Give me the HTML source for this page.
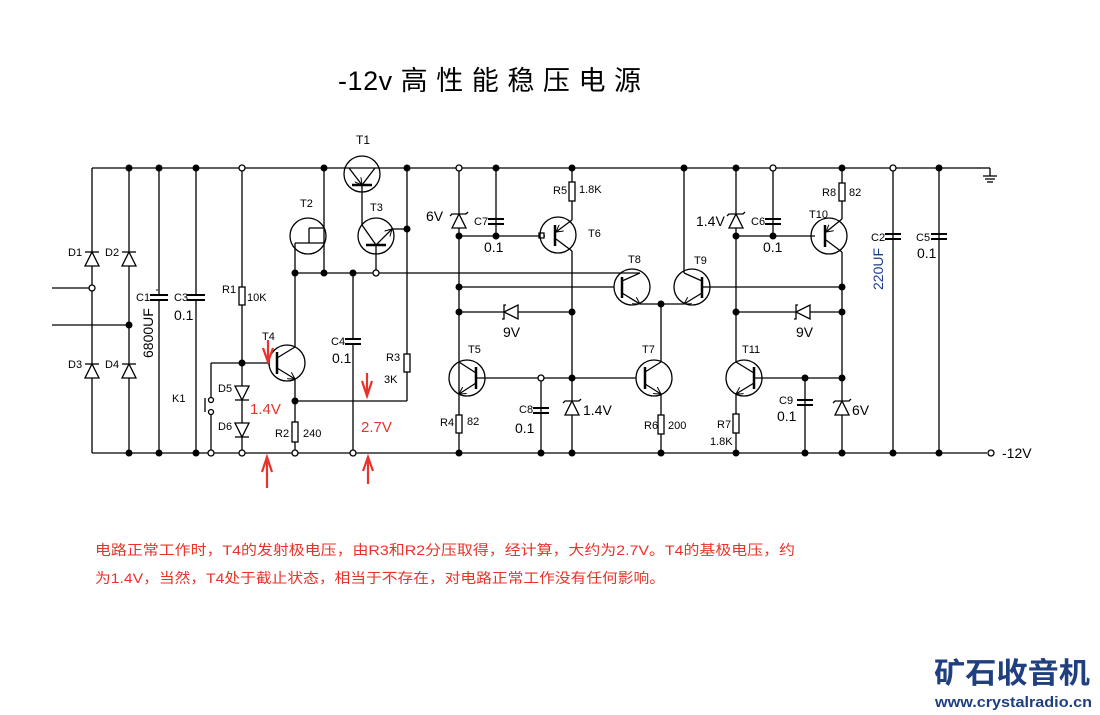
<!DOCTYPE html>
<html><head><meta charset="utf-8"><style>
html,body{margin:0;padding:0;background:#fff;}
svg{display:block;}
text{font-family:"Liberation Sans","Noto Sans CJK SC",sans-serif;}
</style></head><body>
<svg width="1100" height="715" viewBox="0 0 1100 715" xmlns="http://www.w3.org/2000/svg">
<defs>
<marker id="ar" markerWidth="8" markerHeight="8" refX="7" refY="4" orient="auto" markerUnits="userSpaceOnUse"><path d="M0,0 L7,4 L0,8" fill="none" stroke="#000" stroke-width="1"/></marker>
</defs>
<text x="338" y="90" font-size="27" textLength="303" lengthAdjust="spacing" fill="#000">-12v 高 性 能 稳 压 电 源</text>

<g stroke="#000" stroke-width="1.3" fill="none">
<line x1="92" y1="168" x2="975" y2="168"/>
<line x1="92" y1="453" x2="987" y2="453"/>
<line x1="975" y1="168" x2="990" y2="168"/><line x1="990" y1="168" x2="990" y2="176"/>
<line x1="983" y1="176" x2="997" y2="176"/><line x1="985" y1="179" x2="995" y2="179"/><line x1="987" y1="182" x2="993" y2="182"/>
<circle cx="991" cy="453" r="3" fill="#fff"/>
<line x1="92" y1="168" x2="92" y2="453"/><line x1="129" y1="168" x2="129" y2="453"/>
<line x1="52" y1="288" x2="92" y2="288"/><line x1="52" y1="325" x2="129" y2="325"/>
<g fill="#fff">
<path d="M85,266 L99,266 L92,252 Z"/><path d="M122,266 L136,266 L129,252 Z"/>
<path d="M85,378 L99,378 L92,364 Z"/><path d="M122,378 L136,378 L129,364 Z"/>
</g>
<line x1="85" y1="252" x2="99" y2="252"/><line x1="122" y1="252" x2="136" y2="252"/>
<line x1="85" y1="364" x2="99" y2="364"/><line x1="122" y1="364" x2="136" y2="364"/>
<line x1="159" y1="168" x2="159" y2="453"/><line x1="196" y1="168" x2="196" y2="453"/>
<g fill="#fff" stroke="none"><rect x="150" y="295" width="20" height="6"/><rect x="187" y="295" width="20" height="6"/></g>
<line x1="150" y1="295" x2="168" y2="295" stroke-width="2"/><line x1="150" y1="300" x2="168" y2="300" stroke-width="2"/>
<line x1="187" y1="295" x2="205" y2="295" stroke-width="2"/><line x1="187" y1="300" x2="205" y2="300" stroke-width="2"/>
<line x1="242" y1="168" x2="242" y2="363"/>
<rect x="239" y="287" width="6" height="18" fill="#fff"/>
<line x1="211" y1="363" x2="211" y2="453"/><line x1="211" y1="363" x2="268" y2="363"/>
<line x1="211" y1="400" x2="211" y2="412" stroke="#fff" stroke-width="3"/>
<line x1="205" y1="398" x2="205" y2="412"/>
<line x1="242" y1="363" x2="242" y2="453"/>
<path d="M235,386 L249,386 L242,400 Z" fill="#fff"/><line x1="235" y1="400" x2="249" y2="400"/>
<path d="M235,423 L249,423 L242,437 Z" fill="#fff"/><line x1="235" y1="437" x2="249" y2="437"/>
<circle cx="287" cy="363" r="18"/>
<line x1="277" y1="352" x2="277" y2="374" stroke-width="2.5"/>
<line x1="277" y1="358" x2="295" y2="347"/><line x1="277" y1="368" x2="295" y2="379" marker-end="url(#ar)"/>
<line x1="295" y1="273" x2="295" y2="347"/><line x1="295" y1="379" x2="295" y2="453"/>
<line x1="295" y1="401" x2="407" y2="401"/>
<rect x="292" y="422" width="6" height="20" fill="#fff"/>
<line x1="407" y1="168" x2="407" y2="401"/>
<rect x="404" y="354" width="6" height="18" fill="#fff"/>
<line x1="353" y1="273" x2="353" y2="453"/>
<rect x="343" y="339" width="20" height="6" fill="#fff" stroke="none"/>
<line x1="345" y1="339" x2="361" y2="339" stroke-width="2"/><line x1="345" y1="344" x2="361" y2="344" stroke-width="2"/>
<line x1="295" y1="273" x2="640" y2="273"/>
<circle cx="308" cy="236" r="18"/>
<line x1="324" y1="168" x2="324" y2="273"/>
<line x1="309" y1="228" x2="324" y2="228"/><line x1="309" y1="228" x2="309" y2="243"/>
<line x1="295" y1="243" x2="324" y2="243"/><line x1="295" y1="243" x2="295" y2="273"/>
<circle cx="362" cy="174" r="18"/>
<line x1="352" y1="185" x2="372" y2="185" stroke-width="2.5"/>
<line x1="349" y1="168" x2="362" y2="185" marker-end="url(#ar)"/><line x1="375" y1="168" x2="362" y2="185"/>
<line x1="362" y1="185" x2="362" y2="225"/>
<circle cx="376" cy="236" r="18"/>
<line x1="366" y1="245" x2="386" y2="245" stroke-width="2.5"/>
<line x1="362" y1="225" x2="376" y2="245"/><line x1="376" y1="245" x2="392" y2="229" marker-end="url(#ar)"/>
<line x1="392" y1="229" x2="407" y2="229"/>
<line x1="376" y1="245" x2="376" y2="273"/>
<line x1="459" y1="168" x2="459" y2="453"/>
<path d="M452,228 L466,228 L459,214 Z" fill="#fff"/><path d="M450,216 L452,214 L466,214 L468,212"/>
<line x1="459" y1="236" x2="545" y2="236"/>
<line x1="496" y1="168" x2="496" y2="236"/>
<line x1="488" y1="219" x2="504" y2="219" stroke-width="2"/><line x1="488" y1="224" x2="504" y2="224" stroke-width="2"/>
<rect x="539" y="233" width="5" height="5" fill="#fff"/>
<circle cx="558" cy="235" r="18"/>
<line x1="555" y1="225" x2="555" y2="246" stroke-width="2.5"/>
<line x1="572" y1="220" x2="556" y2="232" marker-end="url(#ar)"/><line x1="556" y1="239" x2="572" y2="251"/>
<line x1="572" y1="168" x2="572" y2="220"/><line x1="572" y1="251" x2="572" y2="453"/>
<rect x="569" y="182" width="6" height="19" fill="#fff"/>
<line x1="459" y1="287" x2="614" y2="287"/>
<circle cx="632" cy="287" r="18"/>
<line x1="622" y1="277" x2="622" y2="298" stroke-width="2.5"/>
<line x1="622" y1="281" x2="640" y2="273"/><line x1="622" y1="293" x2="640" y2="304" marker-end="url(#ar)"/>
<line x1="640" y1="304" x2="684" y2="304"/>
<circle cx="692" cy="287" r="18"/>
<line x1="702" y1="277" x2="702" y2="298" stroke-width="2.5"/>
<line x1="684" y1="168" x2="684" y2="273"/><line x1="684" y1="273" x2="702" y2="281"/>
<line x1="702" y1="293" x2="684" y2="304" marker-end="url(#ar)"/>
<line x1="702" y1="287" x2="842" y2="287"/>
<line x1="661" y1="304" x2="661" y2="362"/>
<line x1="459" y1="312" x2="572" y2="312"/>
<path d="M518,305 L518,319 L504,312 Z" fill="#fff"/><path d="M506,305 L504,305 L504,319 L502,319"/>
<circle cx="467" cy="378" r="18"/>
<line x1="476" y1="367" x2="476" y2="389" stroke-width="2.5"/>
<line x1="459" y1="362" x2="476" y2="373"/><line x1="476" y1="383" x2="459" y2="394" marker-end="url(#ar)"/>
<line x1="476" y1="378" x2="636" y2="378"/>
<rect x="456" y="415" width="6" height="18" fill="#fff"/>
<line x1="541" y1="378" x2="541" y2="453"/>
<line x1="533" y1="408" x2="549" y2="408" stroke-width="2"/><line x1="533" y1="413" x2="549" y2="413" stroke-width="2"/>
<path d="M565,415 L579,415 L572,401 Z" fill="#fff"/><path d="M563,403 L565,401 L579,401 L581,399"/>
<circle cx="654" cy="378" r="18"/>
<line x1="645" y1="367" x2="645" y2="389" stroke-width="2.5"/>
<line x1="645" y1="372" x2="661" y2="362"/><line x1="645" y1="384" x2="661" y2="394" marker-end="url(#ar)"/>
<line x1="661" y1="394" x2="661" y2="453"/>
<rect x="658" y="415" width="6" height="19" fill="#fff"/>
<line x1="736" y1="168" x2="736" y2="362"/>
<path d="M729,228 L743,228 L736,214 Z" fill="#fff"/><path d="M727,216 L729,214 L743,214 L745,212"/>
<line x1="736" y1="236" x2="815" y2="236"/>
<line x1="773" y1="168" x2="773" y2="236"/>
<line x1="765" y1="219" x2="781" y2="219" stroke-width="2"/><line x1="765" y1="224" x2="781" y2="224" stroke-width="2"/>
<circle cx="829" cy="236" r="18"/>
<line x1="825" y1="225" x2="825" y2="247" stroke-width="2.5"/>
<line x1="842" y1="219" x2="826" y2="232" marker-end="url(#ar)"/><line x1="826" y1="240" x2="842" y2="252"/>
<line x1="842" y1="168" x2="842" y2="219"/><line x1="842" y1="252" x2="842" y2="453"/>
<rect x="839" y="183" width="6" height="18" fill="#fff"/>
<line x1="736" y1="312" x2="842" y2="312"/>
<path d="M810,305 L810,319 L796,312 Z" fill="#fff"/><path d="M798,305 L796,305 L796,319 L794,319"/>
<circle cx="744" cy="378" r="18"/>
<line x1="754" y1="367" x2="754" y2="389" stroke-width="2.5"/>
<line x1="736" y1="362" x2="754" y2="373"/><line x1="754" y1="383" x2="736" y2="394" marker-end="url(#ar)"/>
<line x1="754" y1="378" x2="842" y2="378"/>
<line x1="736" y1="394" x2="736" y2="453"/>
<rect x="733" y="414" width="6" height="19" fill="#fff"/>
<line x1="805" y1="378" x2="805" y2="453"/>
<line x1="797" y1="400" x2="813" y2="400" stroke-width="2"/><line x1="797" y1="405" x2="813" y2="405" stroke-width="2"/>
<path d="M835,415 L849,415 L842,401 Z" fill="#fff"/><path d="M833,403 L835,401 L849,401 L851,399"/>
<line x1="893" y1="168" x2="893" y2="453"/><line x1="939" y1="168" x2="939" y2="453"/>
<line x1="885" y1="234" x2="901" y2="234" stroke-width="2"/><line x1="885" y1="239" x2="901" y2="239" stroke-width="2"/>
<line x1="931" y1="234" x2="947" y2="234" stroke-width="2"/><line x1="931" y1="239" x2="947" y2="239" stroke-width="2"/>
<line x1="156" y1="290" x2="158" y2="290" stroke-width="1"/>
</g>

<g fill="#000">
<circle cx="129" cy="168" r="3.5"/><circle cx="159" cy="168" r="3.5"/><circle cx="196" cy="168" r="3.5"/><circle cx="324" cy="168" r="3.5"/><circle cx="407" cy="168" r="3.5"/><circle cx="496" cy="168" r="3.5"/><circle cx="572" cy="168" r="3.5"/><circle cx="684" cy="168" r="3.5"/><circle cx="736" cy="168" r="3.5"/><circle cx="842" cy="168" r="3.5"/><circle cx="939" cy="168" r="3.5"/>
<circle cx="129" cy="453" r="3.5"/><circle cx="159" cy="453" r="3.5"/><circle cx="196" cy="453" r="3.5"/><circle cx="459" cy="453" r="3.5"/><circle cx="541" cy="453" r="3.5"/><circle cx="572" cy="453" r="3.5"/><circle cx="661" cy="453" r="3.5"/><circle cx="736" cy="453" r="3.5"/><circle cx="842" cy="453" r="3.5"/><circle cx="893" cy="453" r="3.5"/><circle cx="939" cy="453" r="3.5"/>
<circle cx="295" cy="273" r="3.5"/><circle cx="324" cy="273" r="3.5"/><circle cx="353" cy="273" r="3.5"/><circle cx="407" cy="229" r="3.5"/><circle cx="295" cy="401" r="3.5"/><circle cx="242" cy="363" r="3.5"/><circle cx="129" cy="325" r="3.5"/>
<circle cx="459" cy="236" r="3.5"/><circle cx="496" cy="236" r="3.5"/><circle cx="459" cy="287" r="3.5"/><circle cx="459" cy="312" r="3.5"/><circle cx="572" cy="312" r="3.5"/><circle cx="572" cy="378" r="3.5"/><circle cx="661" cy="304" r="3.5"/>
<circle cx="736" cy="236" r="3.5"/><circle cx="773" cy="236" r="3.5"/><circle cx="736" cy="312" r="3.5"/><circle cx="842" cy="287" r="3.5"/><circle cx="842" cy="312" r="3.5"/><circle cx="805" cy="378" r="3.5"/><circle cx="842" cy="378" r="3.5"/><circle cx="805" cy="453" r="3.5"/>
</g>
<g fill="#fff" stroke="#000" stroke-width="1.3">
<circle cx="242" cy="168" r="3"/><circle cx="92" cy="288" r="3"/><circle cx="211" cy="453" r="3"/><circle cx="242" cy="453" r="3"/><circle cx="295" cy="453" r="3"/><circle cx="353" cy="453" r="3"/><circle cx="376" cy="273" r="3"/><circle cx="459" cy="168" r="3"/><circle cx="773" cy="168" r="3"/><circle cx="893" cy="168" r="3"/><circle cx="541" cy="378" r="3"/><circle cx="211" cy="400" r="2.5"/><circle cx="211" cy="412" r="2.5"/>
</g>

<g font-size="11" fill="#000">
<text x="68" y="256">D1</text><text x="105" y="256">D2</text><text x="68" y="368">D3</text><text x="105" y="368">D4</text>
<text x="136" y="301">C1</text><text x="174" y="301">C3</text><text x="222" y="293">R1</text><text x="247" y="301">10K</text>
<text x="172" y="402">K1</text><text x="218" y="392">D5</text><text x="218" y="430">D6</text>
<text x="262" y="340">T4</text><text x="275" y="437">R2</text><text x="303" y="437">240</text>
<text x="300" y="207">T2</text><text x="356" y="144" font-size="12">T1</text><text x="370" y="211">T3</text>
<text x="331" y="345">C4</text><text x="386" y="361">R3</text><text x="384" y="383">3K</text>
<text x="474" y="225">C7</text><text x="553" y="194">R5</text><text x="579" y="193">1.8K</text><text x="588" y="237">T6</text>
<text x="628" y="263">T8</text><text x="694" y="264">T9</text><text x="468" y="353">T5</text><text x="642" y="353">T7</text>
<text x="440" y="426">R4</text><text x="467" y="425">82</text><text x="519" y="413">C8</text><text x="644" y="429">R6</text><text x="668" y="429">200</text>
<text x="751" y="225">C6</text><text x="822" y="196">R8</text><text x="849" y="196">82</text><text x="809" y="218">T10</text>
<text x="742" y="353">T11</text><text x="717" y="428">R7</text><text x="710" y="445">1.8K</text><text x="779" y="404">C9</text>
<text x="871" y="241">C2</text><text x="916" y="241">C5</text>
</g>
<g font-size="14" fill="#000">
<text x="174" y="320">0.1</text><text x="332" y="363">0.1</text><text x="484" y="252">0.1</text><text x="426" y="221">6V</text>
<text x="503" y="337">9V</text><text x="583" y="415">1.4V</text><text x="515" y="433">0.1</text>
<text x="696" y="226">1.4V</text><text x="763" y="252">0.1</text><text x="796" y="337">9V</text><text x="852" y="415">6V</text><text x="777" y="421">0.1</text>
<text x="917" y="258">0.1</text><text x="1002" y="458">-12V</text>
</g>
<text transform="translate(153,358) rotate(-90)" font-size="14" fill="#000">6800UF</text>
<text transform="translate(883,290) rotate(-90)" font-size="14" fill="#1a3a8a">220UF</text>
<g font-size="15" fill="#e8332a"><text x="250" y="414">1.4V</text><text x="361" y="432">2.7V</text></g>
<g stroke="#e8332a" stroke-width="2.2" fill="none">
<line x1="268" y1="340" x2="268" y2="361"/><path d="M263,348 L268,362 L273,348"/>
<line x1="367" y1="373" x2="367" y2="395"/><path d="M362,381 L367,396 L372,381"/>
<line x1="267" y1="457" x2="267" y2="488"/><path d="M262,472 L267,457 L272,472"/>
<line x1="368" y1="457" x2="368" y2="484"/><path d="M363,471 L368,457 L373,471"/>
</g>
<g font-size="14" fill="#e8332a">
<text x="95" y="555" textLength="700" lengthAdjust="spacingAndGlyphs">电路正常工作时，T4的发射极电压，由R3和R2分压取得，经计算，大约为2.7V。T4的基极电压，约</text>
<text x="95" y="583" textLength="570" lengthAdjust="spacingAndGlyphs">为1.4V，当然，T4处于截止状态，相当于不存在，对电路正常工作没有任何影响。</text>
</g>
<text x="934" y="683" font-size="29" font-weight="bold" fill="#1f3f7f" textLength="156" lengthAdjust="spacingAndGlyphs">矿石收音机</text>
<text x="935" y="707" font-size="15" font-weight="bold" fill="#1f3f7f" textLength="157" lengthAdjust="spacingAndGlyphs">www.crystalradio.cn</text>
</svg>
</body></html>
